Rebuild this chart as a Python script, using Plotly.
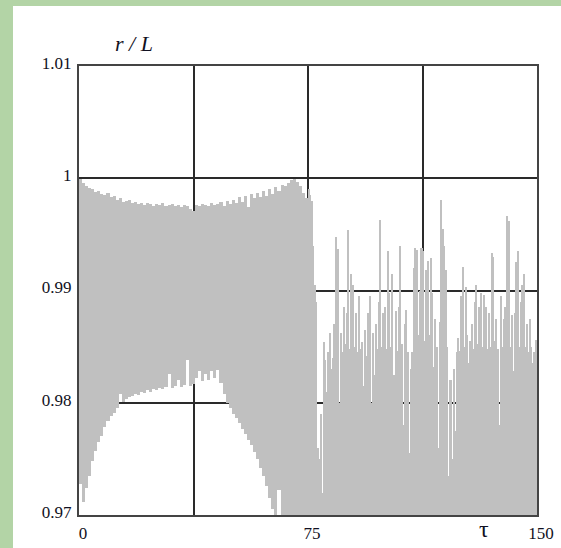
import plotly.graph_objects as go

# ---- data ----
# left segment: tau bins [t, t+1), upper and lower envelope of r/L
tau_left = list(range(0, 75))
upper_left = [0.9999, 0.9996, 0.9993, 0.9991, 0.9990, 0.9988, 0.9989, 0.9986, 0.9985, 0.9987,
              0.9983, 0.9984, 0.9981, 0.9982, 0.9979, 0.9980, 0.9981, 0.9978, 0.9979, 0.9977,
              0.9978, 0.9976, 0.9978, 0.9977, 0.9975, 0.9977, 0.9976, 0.9978, 0.9975, 0.9976,
              0.9977, 0.9975, 0.9976, 0.9974, 0.9976, 0.9975, 0.9973, 0.9971, 0.9976, 0.9975,
              0.9977, 0.9976, 0.9975, 0.9978, 0.9976, 0.9977, 0.9979, 0.9975, 0.9980, 0.9977,
              0.9981, 0.9978, 0.9983, 0.9979, 0.9984, 0.9974, 0.9986, 0.9982, 0.9987, 0.9983,
              0.9989, 0.9984, 0.9990, 0.9986, 0.9992, 0.9989, 0.9994, 0.9993, 0.9996, 0.9998,
              0.9999, 0.9997, 0.9993, 0.9987, 0.9982]
lower_left = [0.9728, 0.9712, 0.9724, 0.9735, 0.9748, 0.9757, 0.9765, 0.9770, 0.9778, 0.9784,
              0.9788, 0.9791, 0.9795, 0.9808, 0.9801, 0.9803, 0.9805, 0.9806, 0.9808, 0.9807,
              0.9810, 0.9809, 0.9811, 0.9810, 0.9812, 0.9811, 0.9813, 0.9812, 0.9814, 0.9826,
              0.9813, 0.9815, 0.9820, 0.9814, 0.9816, 0.9838, 0.9815, 0.9817, 0.9822, 0.9828,
              0.9819, 0.9826, 0.9820, 0.9828, 0.9822, 0.9829, 0.9818, 0.9808, 0.9800, 0.9795,
              0.9790, 0.9786, 0.9782, 0.9777, 0.9772, 0.9767, 0.9762, 0.9756, 0.9750, 0.9742,
              0.9735, 0.9726, 0.9715, 0.9705, 0.9700, 0.9722, 0.9650, 0.9650, 0.9650, 0.9650,
              0.9650, 0.9650, 0.9650, 0.9650, 0.9650]

# right segment: tau bins [t, t+0.5), peak value of r/L (bottom below 0.97)
tau_right = [75 + 0.5 * i for i in range(150)]
top_right = [0.9990, 0.9985, 0.9980, 0.9940, 0.9905, 0.9890, 0.9760, 0.9750, 0.9790, 0.9720,
             0.9854, 0.9838, 0.9810, 0.9845, 0.9862, 0.9830, 0.9840, 0.9870, 0.9948, 0.9937,
             0.9800, 0.9862, 0.9845, 0.9885, 0.9852, 0.9880, 0.9954, 0.9848, 0.9915, 0.9905,
             0.9850, 0.9880, 0.9845, 0.9895, 0.9848, 0.9854, 0.9815, 0.9865, 0.9842, 0.9880,
             0.9895, 0.9800, 0.9862, 0.9825, 0.9870, 0.9848, 0.9890, 0.9963, 0.9850, 0.9880,
             0.9885, 0.9848, 0.9935, 0.9898, 0.9850, 0.9915, 0.9825, 0.9882, 0.9846, 0.9885,
             0.9940, 0.9852, 0.9780, 0.9870, 0.9883, 0.9845, 0.9755, 0.9830, 0.9845, 0.9920,
             0.9938, 0.9936, 0.9860, 0.9900, 0.9938, 0.9935, 0.9855, 0.9918, 0.9926, 0.9860,
             0.9929, 0.9898, 0.9832, 0.9875, 0.9850, 0.9760, 0.9872, 0.9981, 0.9955, 0.9940,
             0.9918, 0.9850, 0.9735, 0.9820, 0.9750, 0.9830, 0.9775, 0.9845, 0.9858, 0.9846,
             0.9895, 0.9921, 0.9850, 0.9903, 0.9860, 0.9835, 0.9855, 0.9870, 0.9848, 0.9890,
             0.9905, 0.9852, 0.9885, 0.9898, 0.9850, 0.9896, 0.9885, 0.9848, 0.9880, 0.9850,
             0.9933, 0.9930, 0.9855, 0.9875, 0.9848, 0.9780, 0.9895, 0.9850, 0.9875, 0.9885,
             0.9966, 0.9962, 0.9850, 0.9878, 0.9828, 0.9880, 0.9925, 0.9935, 0.9850, 0.9890,
             0.9905, 0.9915, 0.9850, 0.9870, 0.9845, 0.9875, 0.9850, 0.9835, 0.9845, 0.9856]
base_right = 0.965

x_ticks = [0, 37.5, 75, 112.5, 150]
x_ticktext = ["0", "", "75", "", "150"]
y_ticks = [0.97, 0.98, 0.99, 1.0, 1.01]
y_ticktext = ["0.97", "0.98", "0.99", "1", "1.01"]

# ---- figure ----
GRAY = "#c0c0c0"
TXT = "#111122"
FONT = "Liberation Serif"

fig = go.Figure()
fig.add_trace(go.Bar(
    x=tau_left, y=[u - l for u, l in zip(upper_left, lower_left)], base=lower_left,
    width=1.0, offset=0, marker=dict(color=GRAY, line=dict(width=0)), hoverinfo="skip"))
fig.add_trace(go.Bar(
    x=tau_right, y=[t - base_right for t in top_right], base=base_right,
    width=0.5, offset=0, marker=dict(color=GRAY, line=dict(width=0)), hoverinfo="skip"))

L, R, T, B = 79, 24, 66, 32.5
W, H = 561, 548
pw, ph = W - L - R, H - T - B

fig.add_shape(type="rect", xref="paper", yref="paper",
              x0=(13 - L) / pw, x1=(W + 2 - L) / pw,
              y0=(H - B - H - 2) / ph, y1=(H - B - 6) / ph,
              fillcolor="white", line=dict(width=0), layer="below")

fig.update_layout(
    width=W, height=H,
    margin=dict(l=L, r=R, t=T, b=B, pad=0, autoexpand=False),
    paper_bgcolor="#b3d4a6", plot_bgcolor="white",
    showlegend=False, bargap=0, barmode="overlay",
    font=dict(family=FONT, color=TXT, size=17),
    xaxis=dict(range=[0, 150], tickvals=x_ticks, ticktext=x_ticktext,
               showgrid=True, gridcolor="#2a2a2a", gridwidth=1.5,
               showline=True, mirror=True, linecolor="#444444", linewidth=2,
               zeroline=False, ticks="", layer="below traces", automargin=False,
               ticklabelshift=4, ticklabelstandoff=2,
               tickfont=dict(family=FONT, size=17, color=TXT)),
    yaxis=dict(range=[0.97, 1.01], tickvals=y_ticks, ticktext=y_ticktext,
               showgrid=True, gridcolor="#2a2a2a", gridwidth=1.5,
               showline=True, mirror=True, linecolor="#444444", linewidth=2,
               zeroline=False, ticks="", layer="below traces", automargin=False,
               ticklabelshift=-3, ticklabelstandoff=2,
               tickfont=dict(family=FONT, size=17, color=TXT)),
    annotations=[
        dict(text="<i>r / L</i>", xref="paper", yref="paper",
             x=(133.5 - L) / pw, y=(H - B - 43) / ph, showarrow=False,
             font=dict(family=FONT, size=22, color=TXT), xanchor="center", yanchor="middle"),
        dict(text="τ", xref="paper", yref="paper",
             x=(484 - L) / pw, y=(H - B - 530) / ph, showarrow=False,
             font=dict(family=FONT, size=24, color=TXT), xanchor="center", yanchor="middle"),
    ],
)

fig.write_html("out.html", config={"displayModeBar": False})
